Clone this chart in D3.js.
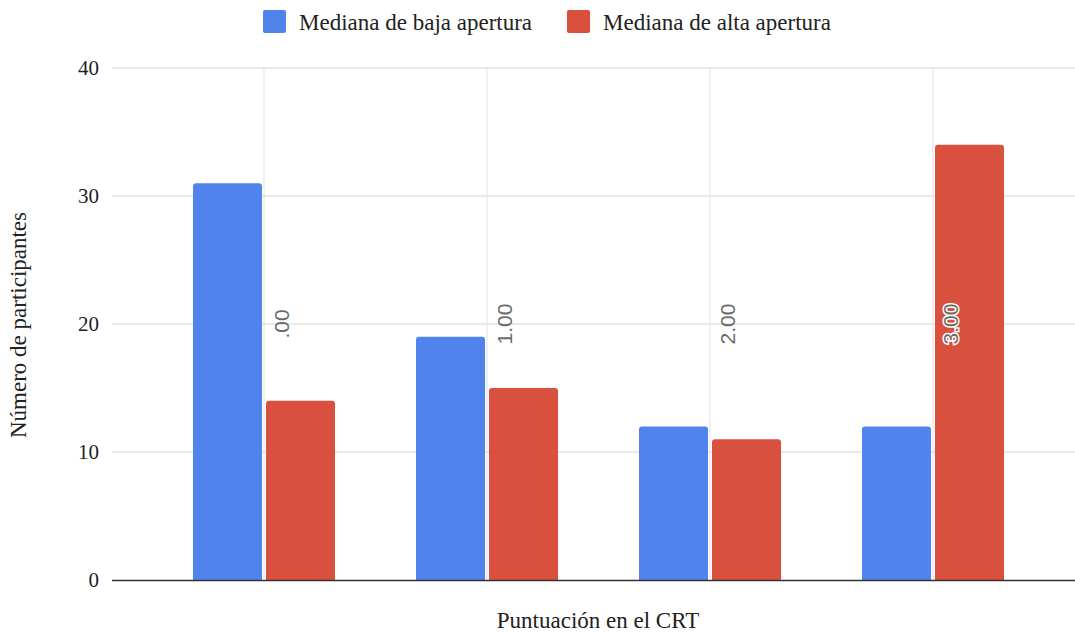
<!DOCTYPE html>
<html><head><meta charset="utf-8">
<script src="https://cdn.jsdelivr.net/npm/d3@7"></script>
<style>body{margin:0;background:#fff}svg{display:block}</style>
</head><body>
<script>
const categories = [".00", "1.00", "2.00", "3.00"];
const seriesNames = ["Mediana de baja apertura", "Mediana de alta apertura"];
const bajaValues = [31, 19, 12, 12];
const altaValues = [14, 15, 11, 34];
const yTicks = [0, 10, 20, 30, 40];
const colors = ["#5083ec", "#d9503f"];

const W = 1075, H = 635;
const svg = d3.select("body").append("svg").attr("width", W).attr("height", H);
const plotL = 112, plotR = 1075, plotT = 68, plotB = 580;
const serif = "Liberation Serif, Times New Roman, serif";

const x = d3.scaleBand().domain(categories).range([152.5, 1044.5]).paddingInner(0).paddingOuter(0);
const barW = 69, gap = 4;
const y = d3.scaleLinear().domain([0, 40]).range([plotB, plotT]);

// horizontal gridlines
svg.append("g").selectAll("line").data(yTicks.filter(d => d > 0)).join("line")
  .attr("x1", plotL).attr("x2", plotR)
  .attr("y1", d => y(d)).attr("y2", d => y(d))
  .attr("stroke", "#d4d4d4").attr("stroke-width", 1.2);
// vertical gridlines at category centres
svg.append("g").selectAll("line").data(categories).join("line")
  .attr("x1", d => x(d) + x.bandwidth() / 2).attr("x2", d => x(d) + x.bandwidth() / 2)
  .attr("y1", plotT).attr("y2", plotB)
  .attr("stroke", "#e6e6e6").attr("stroke-width", 1.2);

// y tick labels
svg.append("g").selectAll("text").data(yTicks).join("text")
  .attr("x", 99).attr("y", d => y(d)).attr("dy", "0.35em")
  .attr("text-anchor", "end")
  .attr("font-family", serif)
  .attr("font-size", 21).attr("fill", "#222").text(d => d);

// bars with rounded top corners
function barPath(x0, w, yTop, yBase, r) {
  r = Math.min(r, (yBase - yTop));
  return `M${x0},${yBase}V${yTop + r}Q${x0},${yTop} ${x0 + r},${yTop}H${x0 + w - r}Q${x0 + w},${yTop} ${x0 + w},${yTop + r}V${yBase}Z`;
}
const series = [bajaValues, altaValues];
series.forEach((vals, si) => {
  svg.append("g").selectAll("path").data(categories).join("path")
    .attr("d", (c, i) => {
      const cx = x(c) + x.bandwidth() / 2;
      const x0 = si === 0 ? cx - gap / 2 - barW : cx + gap / 2;
      return barPath(x0, barW, y(vals[i]), plotB, 3);
    })
    .attr("fill", colors[si]);
});

// baseline
svg.append("line").attr("x1", plotL).attr("x2", plotR).attr("y1", plotB + 0.5).attr("y2", plotB + 0.5)
  .attr("stroke", "#333").attr("stroke-width", 1.6);

// category labels rotated inside the plot
svg.append("g").selectAll("text").data(categories).join("text")
  .attr("transform", d => `translate(${x(d) + x.bandwidth() / 2 + 18},${y(20)}) rotate(-90)`)
  .attr("text-anchor", "middle").attr("dy", "0.35em")
  .attr("font-family", "Liberation Sans, Arial, sans-serif")
  .attr("font-size", 21).attr("fill", "#6b6b6b")
  .attr("stroke", (d, i) => altaValues[i] > 20 ? "#fff" : "none")
  .attr("stroke-width", 3).attr("paint-order", "stroke")
  .text(d => d);

// axis titles
svg.append("text").attr("x", 598).attr("y", 628).attr("text-anchor", "middle")
  .attr("font-family", serif).attr("font-size", 23).attr("fill", "#222")
  .text("Puntuación en el CRT");
svg.append("text").attr("transform", "translate(26,325) rotate(-90)").attr("text-anchor", "middle")
  .attr("font-family", serif).attr("font-size", 23).attr("fill", "#222")
  .text("Número de participantes");

// legend
const legendX = [263, 567];
const lg = svg.append("g");
seriesNames.forEach((n, i) => {
  lg.append("rect").attr("x", legendX[i]).attr("y", 10).attr("width", 23).attr("height", 23).attr("rx", 2)
    .attr("fill", colors[i]);
  lg.append("text").attr("x", legendX[i] + 36).attr("y", 22).attr("dy", "0.35em")
    .attr("font-family", serif).attr("font-size", 23).attr("fill", "#222")
    .text(n);
});
</script>
</body></html>
